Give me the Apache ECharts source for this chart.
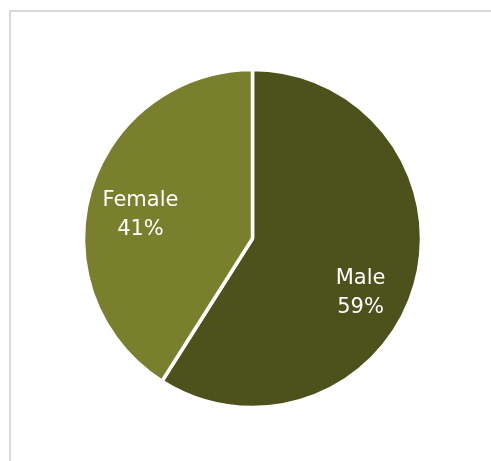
<!DOCTYPE html>
<html>
<head>
<meta charset="utf-8">
<script src="https://cdn.jsdelivr.net/npm/echarts@6/dist/echarts.min.js"></script>
<style>
  html, body { margin: 0; padding: 0; background: #ffffff; overflow: hidden; }
  #frame {
    position: absolute; left: 9px; top: 10px; width: 600px; height: 600px;
    border-left: 2px solid #d9d9d9; border-top: 2px solid #d9d9d9;
  }
  #chart { position: absolute; left: 0; top: 0; width: 491px; height: 461px; }
</style>
</head>
<body>
<div id="frame"></div>
<div id="chart"></div>
<script>
// Gender split
const categories = ['Male', 'Female'];
const shares = [59, 41];
const sliceColors = ['#4d521c', '#7a7f2d'];
// Nudge each inside label away from the default half-radius spot
const labelShift = [[24, 30], [-28, 1]];

const chart = echarts.init(document.getElementById('chart'), null, { renderer: 'canvas' });

chart.setOption({
  animation: false,
  series: [{
    type: 'pie',
    center: [252.5, 238.5],
    radius: [0, 169],
    startAngle: 90,
    clockwise: true,
    silent: true,
    itemStyle: { borderColor: '#ffffff', borderWidth: 3.5 },
    label: {
      show: true,
      position: 'inside',
      formatter: '{b}\n{d}%',
      color: '#ffffff',
      fontFamily: 'DejaVu Sans',
      fontSize: 21,
      lineHeight: 29,
      align: 'center'
    },
    labelLine: { show: false },
    labelLayout: function (p) {
      const s = labelShift[p.dataIndex];
      return { dx: s[0], dy: s[1] };
    },
    data: categories.map((name, i) => ({
      name: name,
      value: shares[i],
      itemStyle: { color: sliceColors[i] }
    }))
  }]
});
</script>
</body>
</html>
